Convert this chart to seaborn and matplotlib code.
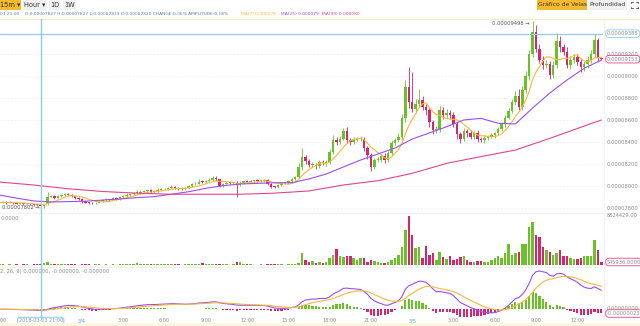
import numpy as np
import pandas as pd
import matplotlib
matplotlib.use("Agg")
import matplotlib.pyplot as plt
from matplotlib.patches import Rectangle
from matplotlib.lines import Line2D
from matplotlib.transforms import blended_transform_factory
import seaborn as sns

sns.set_theme(style="white")
plt.rcParams["font.family"] = ["DejaVu Sans"]

# ---------------- data (prices in units of 1e-8) ----------------
close = [
    7850, 7855, 7848, 7852, 7845, 7840, 7842, 7835, 7838, 7832,
    7830, 7827, 7820, 7835, 7900, 7905, 7895, 7910, 7915, 7925,
    7920, 7905, 7890, 7885, 7860, 7850, 7845, 7842, 7850, 7865,
    7870, 7880, 7875, 7890, 7885, 7900, 7910, 7920, 7925, 7935,
    7940, 7950, 7955, 7960, 7948, 7955, 7965, 7970, 7975, 7980,
    7990, 7985, 7975, 7972, 7985, 8000, 8015, 8020, 8040, 8035,
    8045, 8055, 8070, 8060, 8000, 8020, 8030, 8025, 8030, 8010,
    8030, 8045, 8040, 8045, 8050, 8045, 8050, 8055, 8020, 7995,
    7990, 8010, 8025, 8030, 8045, 8060, 8080, 8170, 8264, 8230,
    8190, 8195, 8180, 8220, 8205, 8215, 8310, 8418, 8400, 8430,
    8500, 8420, 8400, 8420, 8425, 8430, 8345, 8280, 8175, 8236,
    8240, 8270, 8236, 8300, 8390, 8418, 8450, 8618, 8900, 8760,
    8700, 8750, 8780, 8720, 8690, 8580, 8510, 8520, 8690, 8650,
    8660, 8650, 8560, 8470, 8430, 8500, 8480, 8450, 8480, 8430,
    8420, 8440, 8450, 8460, 8480, 8520, 8560, 8620, 8680, 8760,
    8820, 8720, 8870, 9000, 9200, 9400, 9250, 9150, 9100, 9110,
    9010, 9100, 9320, 9260, 9220, 9100, 9150, 9170, 9130, 9080,
    9110, 9150, 9200, 9330, 9160, 9153,
]
first_open = 7848

wick_up = [
    8, 5, 6, 10, 5, 8, 4, 6, 5, 7,
    5, 3, 0, 5, 45, 10, 15, 8, 12, 10,
    8, 10, 6, 8, 5, 6, 5, 8, 6, 10,
    8, 12, 6, 10, 8, 12, 10, 15, 8, 12,
    20, 15, 10, 8, 10, 8, 15, 10, 8, 12,
    15, 8, 6, 8, 10, 12, 10, 15, 20, 15,
    10, 15, 20, 25, 8, 10, 12, 8, 10, 15,
    12, 10, 8, 10, 8, 10, 12, 10, 8, 10,
    8, 12, 10, 8, 12, 10, 15, 40, 80, 20,
    15, 25, 15, 20, 15, 20, 30, 50, 30, 25,
    30, 40, 20, 30, 20, 25, 20, 15, 20, 15,
    20, 25, 30, 20, 25, 20, 30, 40, 60, 180,
    280, 40, 100, 40, 30, 30, 20, 30, 40, 30,
    40, 30, 20, 20, 20, 25, 20, 25, 20, 25,
    15, 20, 15, 20, 15, 20, 25, 30, 30, 30,
    40, 60, 40, 50, 40, 98, 60, 40, 30, 40,
    30, 40, 70, 40, 30, 40, 30, 30, 30, 25,
    30, 30, 40, 55, 20, 5,
]
wick_dn = [
    6, 5, 8, 5, 7, 5, 6, 8, 5, 6,
    8, 6, 7, 18, 10, 8, 10, 6, 8, 10,
    6, 8, 12, 8, 10, 8, 6, 10, 8, 6,
    8, 10, 8, 6, 8, 10, 8, 6, 10, 8,
    10, 12, 8, 6, 8, 10, 8, 6, 8, 10,
    8, 12, 10, 8, 6, 8, 10, 8, 6, 8,
    10, 8, 12, 15, 10, 8, 6, 8, 10, 110,
    10, 8, 6, 8, 10, 6, 8, 12, 10, 15,
    8, 10, 6, 8, 10, 8, 6, 10, 20, 30,
    20, 15, 25, 20, 15, 20, 15, 20, 25, 20,
    15, 30, 25, 20, 15, 20, 25, 30, 40, 20,
    15, 20, 25, 15, 20, 15, 20, 30, 40, 50,
    30, 40, 30, 30, 40, 45, 40, 30, 30, 40,
    30, 40, 25, 40, 40, 20, 30, 25, 20, 30,
    20, 25, 20, 15, 20, 15, 20, 20, 15, 20,
    25, 30, 30, 20, 40, 25, 30, 30, 40, 30,
    40, 30, 30, 40, 30, 25, 40, 30, 30, 40,
    30, 35, 30, 30, 25, 10,
]
# volume in thousands
volume_k = [
    100, 120, 80, 150, 90, 110, 70, 130, 100, 90,
    120, 150, 200, 300, 480, 200, 150, 120, 100, 180,
    120, 150, 100, 90, 150, 120, 100, 80, 110, 130,
    90, 100, 80, 120, 90, 150, 110, 130, 100, 160,
    300, 250, 130, 120, 100, 140, 240, 180, 120, 150,
    100, 130, 110, 90, 120, 100, 140, 120, 200, 300,
    250, 150, 180, 150, 200, 120, 100, 90, 110, 600,
    480, 200, 120, 100, 90, 80, 100, 90, 120, 150,
    110, 100, 120, 90, 130, 150, 240, 360, 2090, 890,
    600, 715, 360, 480, 300, 600, 1310, 1790, 2860, 1670,
    1490, 1670, 1670, 1310, 890, 1190, 1190, 600, 890, 715,
    480, 300, 300, 600, 890, 1310, 1790, 3280, 6260, 8824.429,
    5360, 2980, 3280, 1190, 3460, 1790, 2090, 890, 2380, 1490,
    1070, 1670, 890, 1070, 1490, 1670, 890, 480, 600, 715,
    715, 600, 480, 890, 1190, 1670, 1190, 2090, 3870, 1790,
    2090, 2380, 3870, 3870, 6850, 7750, 5360, 5070, 3280, 2680,
    2380, 1790, 2090, 2680, 1670, 1670, 1310, 1070, 1070, 1310,
    1670, 1670, 1670, 4470, 2680, 545.936,
]
ma25_k = [0, 5, 10, 15, 20, 25, 30, 35, 40, 45, 50, 55, 60, 65, 70, 75, 80, 85,
          90, 95, 100, 105, 110, 115, 120, 125, 130, 135, 140, 145, 150, 155,
          160, 165, 170, 175]
ma25_v = [7918, 7890, 7864, 7855, 7858, 7862, 7872, 7882, 7894, 7903, 7925, 7948,
          7979, 8003, 8018, 8024, 8030, 8030, 8064, 8109, 8173, 8236, 8291, 8345,
          8427, 8482, 8539, 8600, 8615, 8570, 8564, 8709, 8845, 8964, 9070, 9145]
ma99_k = [0, 10, 20, 30, 40, 50, 60, 70, 80, 90, 100, 110, 120, 130, 140, 150,
          160, 170, 175]
ma99_v = [8036, 8009, 7975, 7950, 7935, 7925, 7925, 7925, 7935, 7955, 8009, 8048,
          8115, 8206, 8267, 8327, 8433, 8545, 8600]

price_ticks = [7800, 8000, 8200, 8400, 8600, 8800, 9000, 9200]
time_labels = ["18:00", "21:00", "3/4", "3:00", "6:00", "9:00", "12:00", "15:00",
               "18:00", "21:00", "3/5", "3:00", "6:00", "9:00", "12:00"]
cross_label = "2018-03-03 21:00"
cross_idx = 12
cross_price = 9385
last_price = 9153
high_idx, high_price = 155, 9498
low_idx, low_price = 13, 7802

info_parts = [
    ("03 21:00", "#5f7fa3"),
    ("O:0.00007827 H:0.00007827 L:0.00007813 C:0.00007820 CHANGE:0.06% AMPLITUDE:0.18%", "#5f7fa3"),
    ("MA(7) 0.000078", "#f5b83d"),
    ("MA(25) 0.000079", "#9a4ef1"),
    ("MA(99) 0.000080", "#e0468a"),
]

n = len(close)
for name, arr in [("wick_up", wick_up), ("wick_dn", wick_dn), ("volume_k", volume_k)]:
    assert len(arr) == n, (name, len(arr), n)

# ---------------- derived ----------------
k = np.arange(n)
c = np.array(close, float)
o = np.concatenate([[first_open], c[:-1]])
h = np.maximum(o, c) + np.array(wick_up)
l = np.minimum(o, c) - np.array(wick_dn)
GREEN, PINK = "#6cc12a", "#d8246a"
up = c >= o
colors = np.where(up, GREEN, PINK)

df = pd.DataFrame({"k": k, "open": o, "close": c, "high": h, "low": l,
                   "vol": np.array(volume_k) * 1000})
df["ma7"] = df["close"].rolling(7, min_periods=1).mean()
ema12 = df["close"].ewm(span=12, adjust=False).mean()
ema26 = df["close"].ewm(span=26, adjust=False).mean()
df["dif"] = ema12 - ema26
df["dea"] = df["dif"].ewm(span=9, adjust=False).mean()
df["hist"] = df["dif"] - df["dea"]
ma25 = pd.DataFrame({"k": ma25_k, "v": ma25_v})
ma99 = pd.DataFrame({"k": ma99_k, "v": ma99_v})

# ---------------- layout ----------------
W, H = 640, 326
fig = plt.figure(figsize=(W / 100, H / 100), dpi=100)
fig.patch.set_facecolor("white")


def rect(top, bottom, left=0, right=603):
    return [left / W, 1 - bottom / H, (right - left) / W, (bottom - top) / H]


def fy(py):
    return 1 - py / H


xlim = ((0 + 0.6) / 3.44, (603 + 0.6) / 3.44)
ax_main = fig.add_axes(rect(19, 212))
ax_vol = fig.add_axes(rect(213, 266))
ax_macd = fig.add_axes(rect(268, 318))
for ax in (ax_main, ax_vol, ax_macd):
    ax.set_xlim(*xlim)
    for s in ax.spines.values():
        s.set_visible(False)
    ax.set_xticks([])
    ax.set_yticks([])
    ax.set_facecolor("white")


def p_of(py):
    return 8000 + (186 - py) / 0.11


ax_main.set_ylim(p_of(212), p_of(19))

LBL = dict(fontsize=3.7, color="#8a8a8a", va="center", ha="left")
BOX = dict(boxstyle="round,pad=0.25,rounding_size=0.6", fc="white", lw=0.6)

# grid
for t in price_ticks:
    ax_main.axhline(t, color="#eeeeee", lw=0.5, ls=(0, (3, 2)), zorder=0)

# candles
ax_main.vlines(df["k"], df["low"], df["high"], colors=colors, lw=0.6, zorder=2)
body = np.maximum(np.abs(c - o), 7)
ax_main.bar(df["k"], body, bottom=np.minimum(o, c), width=0.72, color=colors,
            linewidth=0, zorder=3)

# moving averages
sns.lineplot(data=df, x="k", y="ma7", ax=ax_main, color="#f5b83d", lw=0.8,
             legend=False, zorder=4)
sns.lineplot(data=ma25, x="k", y="v", ax=ax_main, color="#9a4ef1", lw=0.8,
             legend=False, zorder=4)
sns.lineplot(data=ma99, x="k", y="v", ax=ax_main, color="#e0468a", lw=0.8,
             legend=False, zorder=4)
ax_main.set_xlabel("")
ax_main.set_ylabel("")

# crosshair horizontal
ax_main.axhline(cross_price, color="#8fcaf0", lw=0.9, zorder=5)

# right price labels
tr_main = blended_transform_factory(fig.transFigure, ax_main.transData)
for t in price_ticks:
    ax_main.text(607 / W, t, f"{t * 1e-8:.8f}", transform=tr_main, clip_on=False, **LBL)
ax_main.text(607 / W, cross_price, f"{cross_price * 1e-8:.8f}", transform=tr_main,
             clip_on=False, bbox=dict(ec="#8fcaf0", **BOX), **LBL)
ax_main.text(607 / W, last_price, f"{last_price * 1e-8:.8f}", transform=tr_main,
             clip_on=False, bbox=dict(ec="#e0468a", **BOX), **LBL)

# high / low markers
ax_main.text(high_idx - 0.8, high_price - 25, f"{high_price * 1e-8:.8f} →",
             fontsize=3.7, color="#555555", ha="right", va="center", zorder=6)
ax_main.text(low_idx - 1.2, low_price + 5, f"{low_price * 1e-8:.8f} →",
             fontsize=3.7, color="#555555", ha="right", va="center", zorder=6)

# ---------------- volume ----------------
vmax = df["vol"].max()
per_px = vmax / (265 - 216)
ax_vol.set_ylim(-(266 - 265) * per_px, vmax + (216 - 213) * per_px)
ax_vol.bar(df["k"], df["vol"], width=0.72, color=colors, linewidth=0)
tr_vol = blended_transform_factory(fig.transFigure, ax_vol.transData)
ax_vol.text(607 / W, vmax, f"{vmax:.2f}", transform=tr_vol, clip_on=False, **LBL)
ax_vol.text(607 / W, (265 - 262) * per_px, f"{df['vol'].iloc[-1]:.4f}",
            transform=tr_vol, clip_on=False, bbox=dict(ec="#e0468a", **BOX), **LBL)
fig.text(0.5 / W, fy(219), "0.0000", fontsize=3.7, color="#8a8a8a", va="center")

# ---------------- MACD ----------------
D = df["dif"].max()
s = D / (309.3 - 271)
ax_macd.set_ylim(-(318 - 309.3) * s, (309.3 - 268) * s)
hist_col = np.where(df["hist"] >= 0, GREEN, PINK)
ax_macd.bar(df["k"], df["hist"], width=0.62, color=hist_col, linewidth=0)
sns.lineplot(data=df, x="k", y="dif", ax=ax_macd, color="#9a4ef1", lw=0.8, legend=False)
sns.lineplot(data=df, x="k", y="dea", ax=ax_macd, color="#f5b83d", lw=0.8, legend=False)
ax_macd.set_xlabel("")
ax_macd.set_ylabel("")
tr_macd = blended_transform_factory(fig.transFigure, ax_macd.transData)
ax_macd.text(607 / W, 0.3 * s, "0.00000000", transform=tr_macd, clip_on=False, **LBL)
ax_macd.text(607 / W, -4.2 * s, "-0.00000023", transform=tr_macd, clip_on=False,
             bbox=dict(ec="#e0468a", **BOX), **LBL)
fig.text(0.5 / W, fy(272), "2, 26, 9) 0.000000, -0.000000, -0.000000",
         fontsize=3.7, color="#8a8a8a", va="center")

# ---------------- x labels ----------------
tr_x = blended_transform_factory(ax_macd.transData, fig.transFigure)
for i, lab in enumerate(time_labels):
    kk = i * 12
    if kk == cross_idx:
        continue
    col = "#4aa3df" if "/" in lab else "#8a8a8a"
    ax_macd.text(kk, fy(321), lab, transform=tr_x, fontsize=3.5, color=col,
                 ha="center", va="center", clip_on=False)
ax_macd.text(cross_idx, fy(321), cross_label, transform=tr_x, fontsize=3.5,
             color="#6a9ccc", ha="center", va="center", clip_on=False, zorder=10,
             bbox=dict(boxstyle="round,pad=0.25,rounding_size=0.6", fc="white",
                       ec="#8fcaf0", lw=0.7))

# crosshair vertical across panels
tr_v = blended_transform_factory(ax_main.transData, fig.transFigure)
fig.add_artist(Line2D([cross_idx, cross_idx], [fy(19), fy(318.5)], transform=tr_v,
                      color="#8fcaf0", lw=1.0, zorder=9))

# separators
for py in (212.5, 267.0):
    fig.add_artist(Line2D([0, 603 / W], [fy(py), fy(py)], color="#ececec", lw=0.5))
fig.add_artist(Line2D([603.5 / W, 603.5 / W], [fy(19), fy(318)], color="#eeeeee", lw=0.5))
fig.add_artist(Line2D([0, 1], [fy(18.5), fy(18.5)], color="#f5e6b8", lw=0.6))
fig.add_artist(Rectangle((0, 0), 1, 3 / H, transform=fig.transFigure,
                         fc="#fdf6df", ec="none"))


# ---------------- toolbar ----------------
def button(x0, x1, label, bg, fs=4.8, color="#333333"):
    fig.add_artist(Rectangle((x0 / W, fy(9.5)), (x1 - x0) / W, 9.5 / H,
                             transform=fig.transFigure, fc=bg, ec="none"))
    fig.text((x0 + x1) / 2 / W, fy(5), label, fontsize=fs, color=color,
             ha="center", va="center")


button(0, 21, "15m ▾", "#f3b92f")
button(23, 47, "Hour ▾", "#f1f1f1")
button(49, 61, "1D", "#f1f1f1")
button(63, 76, "1W", "#f1f1f1")
button(537, 587, "Gráfico de Velas", "#f3b92f", fs=4.3)
button(589, 627, "Profundidad", "#f1f1f1", fs=4.3)
cx, cy = 634.5, 5
for dx in (-1, 1):
    for dy in (-1, 1):
        x0, y0 = cx + dx * 3.2, cy + dy * 3.2
        fig.add_artist(Line2D([x0 / W, (x0 - dx * 1.6) / W], [fy(y0), fy(y0)],
                              color="#444444", lw=0.6))
        fig.add_artist(Line2D([x0 / W, x0 / W], [fy(y0), fy(y0 - dy * 1.6)],
                              color="#444444", lw=0.6))

# info line, texts chained left to right
fig.canvas.draw()
renderer = fig.canvas.get_renderer()
starts = [0.5, 25, 241, 281, 321]
x_px = 0.5
for (txt, col), start in zip(info_parts, starts):
    x_px = max(x_px, start)
    t = fig.text(x_px / W, fy(14), txt, fontsize=3.2, color=col, va="center")
    bb = t.get_window_extent(renderer=renderer)
    x_px = bb.x1 + 3

fig.savefig("out.png", dpi=100, facecolor="white")
